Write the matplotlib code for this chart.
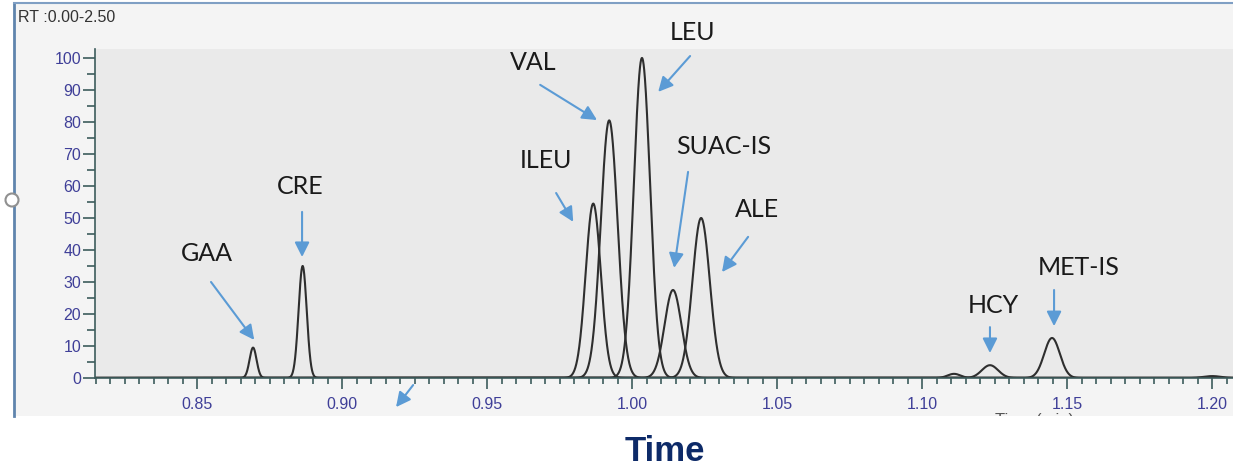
import numpy as np
import matplotlib
matplotlib.use("Agg")
import matplotlib.pyplot as plt
from matplotlib.patches import Rectangle, Ellipse
from matplotlib.ticker import MultipleLocator, FormatStrFormatter

# peaks (retention time in min, relative intensity %, peak sigma)
names = ["GAA", "CRE", "ILEU", "VAL", "LEU", "SUAC-IS", "ALE", "HCY", "MET-IS"]
rt = [0.8693, 0.8864, 0.9866, 0.9921, 1.0034, 1.0141, 1.0238, 1.1234, 1.1448]
height = [9.5, 35.0, 54.5, 80.5, 100.0, 27.5, 50.0, 4.0, 12.5]
sigma = [0.0012, 0.0014, 0.0026, 0.0029, 0.0028, 0.0029, 0.0030, 0.0028, 0.0027]

# small unlabelled bumps
minor_rt = [1.111, 1.200]
minor_height = [1.3, 0.6]
minor_sigma = [0.0022, 0.003]

# label text position and arrow tail / head (data coords)
label_xy = [(0.8534, 39.0), (0.8855, 59.7), (0.9703, 68.1), (0.9659, 98.7), (1.0210, 107.8),
            (1.0317, 72.2), (1.0431, 52.5), (1.1245, 22.8), (1.1541, 34.4)]
arrow_tail = [(0.8548, 30.0), (0.8862, 51.9), (0.9738, 57.8), (0.9683, 91.6), (1.0200, 100.6),
              (1.0193, 64.4), (1.0400, 44.1), (1.1234, 15.9), (1.1455, 27.5)]
arrow_head = [(0.8697, 11.9), (0.8862, 37.8), (0.9797, 48.8), (0.9879, 80.6), (1.0090, 89.4),
              (1.0145, 34.4), (1.0310, 33.1), (1.1234, 7.8), (1.1455, 16.2)]

xmin, xmax = 0.8148, 1.2072
arrow_color = "#5b9bd5"
tick_col = "#3d5c5c"
lab_col = "#3f3f98"

fig = plt.figure(figsize=(12.33, 4.69), dpi=100)
fig.patch.set_facecolor("white")

# light panel behind the chromatogram
panel = Rectangle((14 / 1233, 1 - 416 / 469), 1 - 14 / 1233, (416 - 4) / 469,
                  transform=fig.transFigure, facecolor="#f4f4f4", edgecolor="none", zorder=-5)
fig.patches.append(panel)
fig.lines.append(plt.Line2D([14 / 1233, 14 / 1233], [1 - 416 / 469, 1 - 3 / 469],
                            transform=fig.transFigure, color="#5f84ad", lw=2, zorder=-4))
fig.lines.append(plt.Line2D([14 / 1233, 1], [1 - 3 / 469, 1 - 3 / 469],
                            transform=fig.transFigure, color="#7f9fc4", lw=1.5, zorder=-4))
fig.patches.append(Ellipse((12 / 1233, 1 - 200 / 469), 13 / 1233, 13 / 469, transform=fig.transFigure,
                           facecolor="white", edgecolor="#909090", lw=1.5, zorder=3))

ax = fig.add_axes([95 / 1233, (469 - 378) / 469, (1233 - 95) / 1233, (378 - 49) / 469])
ax.set_facecolor("#eaeaea")

x = np.linspace(xmin, xmax, 6000)
for c, h, s in zip(rt + minor_rt, height + minor_height, sigma + minor_sigma):
    ax.plot(x, h * np.exp(-0.5 * ((x - c) / s) ** 2), color="#2e2e2e", lw=1.5)

for name, txt, tail, head in zip(names, label_xy, arrow_tail, arrow_head):
    ax.text(txt[0], txt[1], name, ha="center", va="center", fontsize=18,
            family="Lato", color="#1a1a1a", clip_on=False)
    ax.annotate("", xy=head, xytext=tail, annotation_clip=False,
                arrowprops=dict(arrowstyle="-|>", color=arrow_color, lw=1.5, mutation_scale=22,
                                shrinkA=0, shrinkB=0))
# stray arrow under the axis
ax.annotate("", xy=(0.9186, -9.1), xytext=(0.9245, -2.2), annotation_clip=False,
            arrowprops=dict(arrowstyle="-|>", color=arrow_color, lw=1.5, mutation_scale=22,
                            shrinkA=0, shrinkB=0))

ax.set_xlim(xmin, xmax)
ax.set_ylim(0, 102.8)
ax.spines["top"].set_visible(False)
ax.spines["right"].set_visible(False)
ax.spines["left"].set_color(tick_col)
ax.spines["bottom"].set_color(tick_col)
ax.spines["left"].set_linewidth(1.2)
ax.spines["bottom"].set_linewidth(1.2)

ax.xaxis.set_major_locator(MultipleLocator(0.05))
ax.xaxis.set_minor_locator(MultipleLocator(0.005))
ax.xaxis.set_major_formatter(FormatStrFormatter("%.2f"))
ax.yaxis.set_major_locator(MultipleLocator(10))
ax.yaxis.set_minor_locator(MultipleLocator(5))
ax.tick_params(axis="both", which="both", color=tick_col, labelcolor=lab_col, width=1.2, labelsize=11.5)
ax.tick_params(axis="x", which="major", length=8, pad=6)
ax.tick_params(axis="x", which="minor", length=4)
ax.tick_params(axis="y", which="major", length=9, pad=1)
ax.tick_params(axis="y", which="minor", length=6)
for lab in ax.get_xticklabels() + ax.get_yticklabels():
    lab.set_family("Liberation Sans")

fig.text(18 / 1233, 1 - 17 / 469, "RT :0.00-2.50", fontsize=11.5, family="Liberation Sans",
         color="#333333", va="center", ha="left")
hidden = fig.text(1035 / 1233, 1 - 413 / 469, "Time (min)", fontsize=12, family="Liberation Sans",
                  color="#555555", va="top", ha="center")
hidden.set_clip_path(panel)

fig.text(665 / 1233, 1 - 451 / 469, "Time", fontsize=25, fontweight="bold", family="Liberation Sans",
         color="#0d2a68", ha="center", va="center")

fig.savefig("out.png", dpi=100)
